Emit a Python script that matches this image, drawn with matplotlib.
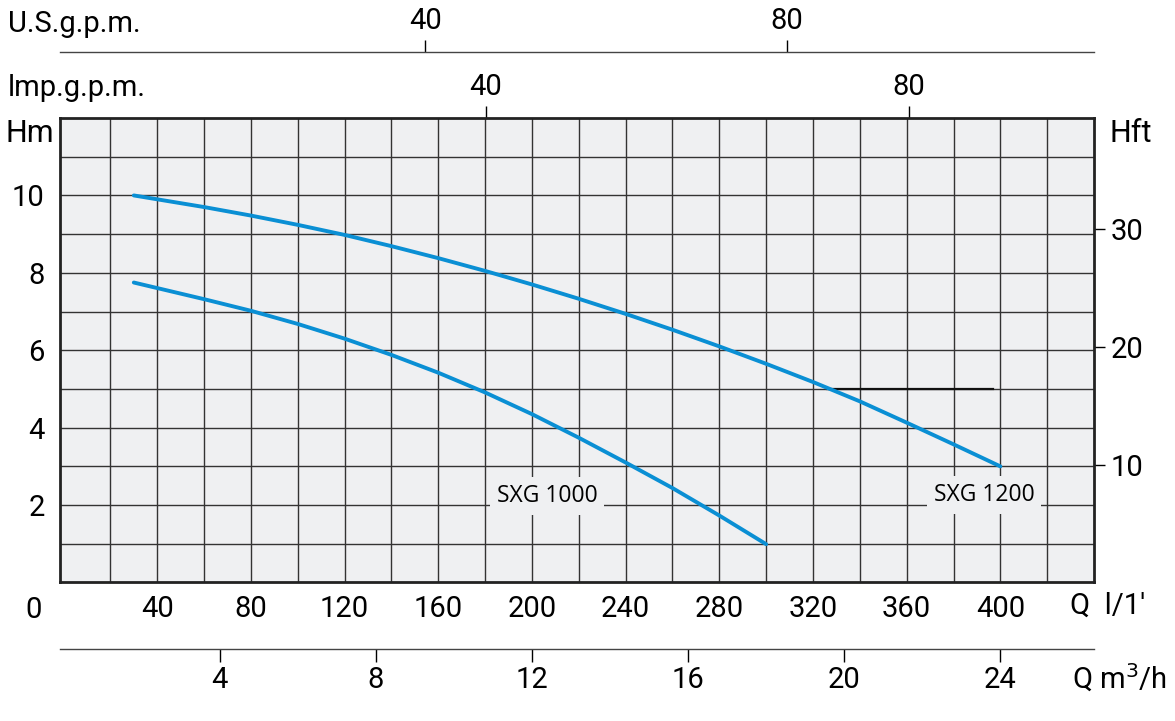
import matplotlib
matplotlib.use("Agg")
import matplotlib.pyplot as plt
from matplotlib.ticker import FixedLocator

# pump curves, Q in l/min, H in m
q_1200 = [30, 60, 80, 100, 120, 140, 160, 180, 200, 220, 240, 260, 280, 300, 320, 340, 360, 380, 400]
h_1200 = [10.0, 9.70, 9.48, 9.24, 8.98, 8.69, 8.38, 8.05, 7.70, 7.33, 6.94, 6.53, 6.10, 5.65, 5.18, 4.68, 4.13, 3.57, 3.0]
q_1000 = [30, 60, 80, 100, 120, 140, 160, 180, 200, 220, 240, 260, 280, 300]
h_1000 = [7.75, 7.32, 7.02, 6.68, 6.30, 5.88, 5.42, 4.91, 4.35, 3.74, 3.10, 2.44, 1.73, 0.99]

# dark marker segment at 5 m
mark_q = [326, 397]
mark_h = [5, 5]

q_ticks = [40, 80, 120, 160, 200, 240, 280, 320, 360, 400]
h_ticks = [2, 4, 6, 8, 10]
hft_ticks = [10, 20, 30]
m3h_ticks = [4, 8, 12, 16, 20, 24]
us_ticks = [40, 80]
imp_ticks = [40, 80]

# conversions as drawn on the chart
LPM_PER_USG = 3.86
LPM_PER_IMP = 4.51
M_PER_FT = 0.3048

BG = "#eff0f2"
GRID = "#333333"
BLUE = "#0a8fd4"

plt.rcParams["font.family"] = ["Roboto", "DejaVu Sans"]
FS = 21

fig = plt.figure(figsize=(11.75, 7.21), dpi=100)
ax = fig.add_axes([0.0511, 0.1921, 0.8800, 0.6442])
ax.set_facecolor(BG)
ax.set_xlim(-1.5, 440)
ax.set_ylim(0, 12)

# grid every 20 l/min and every 1 m
ax.xaxis.set_major_locator(FixedLocator(q_ticks))
ax.xaxis.set_minor_locator(FixedLocator(list(range(20, 440, 20))))
ax.yaxis.set_major_locator(FixedLocator(h_ticks))
ax.yaxis.set_minor_locator(FixedLocator(list(range(1, 12))))
ax.grid(True, which="both", color=GRID, lw=1.0)
ax.set_axisbelow(True)
ax.tick_params(which="both", length=0)
ax.tick_params(axis="x", labelsize=FS, pad=9)
ax.tick_params(axis="y", labelsize=FS, pad=11)
for s in ax.spines.values():
    s.set_linewidth(2.0)
    s.set_color("#222222")

ax.plot(q_1200, h_1200, color=BLUE, lw=2.8, solid_capstyle="round", zorder=3)
ax.plot(q_1000, h_1000, color=BLUE, lw=2.8, solid_capstyle="round", zorder=3)
ax.plot(mark_q, mark_h, color="#111111", lw=1.6, zorder=2)

box = dict(facecolor=BG, edgecolor="none", pad=5)
ax.text(206.5, 2.24, "SXG 1000", fontsize=16.5, family=["Open Sans", "DejaVu Sans"],
        ha="center", va="center", bbox=box, zorder=4)
ax.text(393, 2.26, "SXG 1200", fontsize=16.5, family=["Open Sans", "DejaVu Sans"],
        ha="center", va="center", bbox=box, zorder=4)

# right axis in feet
ay = ax.secondary_yaxis("right", functions=(lambda m: m / M_PER_FT, lambda f: f * M_PER_FT))
ay.set_yticks(hft_ticks)
ay.tick_params(length=8, width=1, labelsize=FS, pad=4)
ay.spines["right"].set_visible(False)

# Imp. gallons on the top spine
a_imp = ax.secondary_xaxis("top", functions=(lambda q: q / LPM_PER_IMP, lambda g: g * LPM_PER_IMP))
a_imp.set_xticks(imp_ticks)
a_imp.tick_params(length=9, width=1, labelsize=FS, pad=3)
a_imp.spines["top"].set_visible(False)

# US gallons on a separate line above
a_us = ax.secondary_xaxis(1.142, functions=(lambda q: q / LPM_PER_USG, lambda g: g * LPM_PER_USG))
a_us.set_xticks(us_ticks)
a_us.tick_params(length=9, width=1, labelsize=FS, pad=3)
a_us.spines["top"].set_linewidth(1.0)
a_us.spines["top"].set_color("#444444")

# m3/h on a separate line below
a_m3 = ax.secondary_xaxis(-0.143, functions=(lambda q: q * 0.06, lambda m: m / 0.06))
a_m3.set_xticks(m3h_ticks)
a_m3.tick_params(length=9, width=1, labelsize=FS, pad=3)
a_m3.spines["bottom"].set_linewidth(1.0)
a_m3.spines["bottom"].set_color("#444444")

# axis captions
fig.text(8 / 1175, 1 - 24 / 721, "U.S.g.p.m.", fontsize=FS, va="center", ha="left")
fig.text(8 / 1175, 1 - 88 / 721, "lmp.g.p.m.", fontsize=FS, va="center", ha="left")
fig.text(5 / 1175, 1 - 134 / 721, "Hm", fontsize=FS + 1, va="center", ha="left")
fig.text(1109 / 1175, 1 - 134 / 721, "Hft", fontsize=FS + 1, va="center", ha="left")
fig.text(34 / 1175, 1 - 610 / 721, "0", fontsize=FS, va="center", ha="center")
fig.text(1070 / 1175, 1 - 606 / 721, "Q  l/1\u2032", fontsize=FS, va="center", ha="left")
fig.text(1072 / 1175, 1 - 678 / 721, "Q m$^3$/h", fontsize=FS, va="center", ha="left")

fig.savefig("out.png", dpi=100)
